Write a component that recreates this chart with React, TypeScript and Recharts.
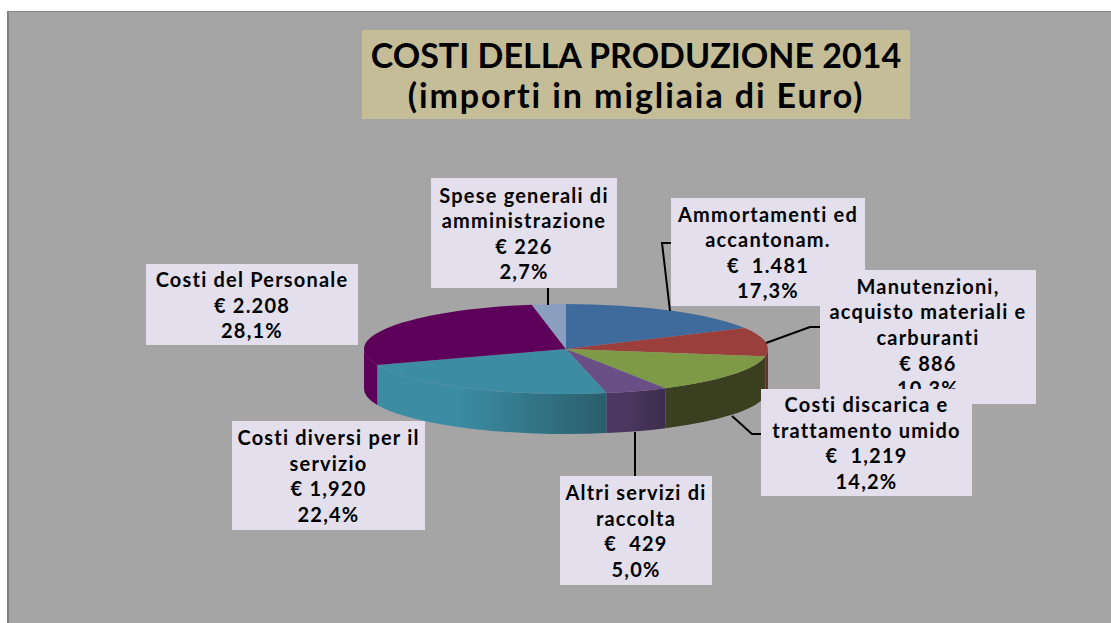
import { PieChart, Pie } from 'recharts'

const categoryLines = [
  ['Ammortamenti ed', 'accantonam.'],
  ['Manutenzioni,', 'acquisto materiali e', 'carburanti'],
  ['Costi discarica e', 'trattamento umido'],
  ['Altri servizi di', 'raccolta'],
  ['Costi diversi per il', 'servizio'],
  ['Costi del Personale'],
  ['Spese generali di', 'amministrazione'],
]
const amounts = ['€ \u00a01.481', '€ 886', '€ \u00a01,219', '€ \u00a0429', '€ 1,920', '€ 2.208', '€ 226']
const shareLabels = ['17,3%', '10,3%', '14,2%', '5,0%', '22,4%', '28,1%', '2,7%']
const shares = [17.3, 10.3, 14.2, 5.0, 22.4, 28.1, 2.7]

const topColors = ['#3f6a9c', '#9b3f3d', '#7f9a47', '#6a4f87', '#3c8ca3', '#5c005a', '#8a9fc0']
const wallColors = [
  ['#2c4a6d', '#2c4a6d'],
  ['#6e2c2b', '#6e2c2b'],
  ['#3a401f', '#3a401f'],
  ['#4b3760', '#3c2c4c'],
  ['#3c8ca3', '#2a5e6c'],
  ['#5c005a', '#5c005a'],
  ['#61708a', '#61708a'],
]

// label boxes: x, y, width, height
const boxes = [
  [671, 198, 194, 108],
  [820, 270, 216, 134],
  [761, 389, 211, 107],
  [560, 476, 152, 109],
  [232, 421, 193, 109],
  [146, 264, 212, 81],
  [431, 178, 186, 110],
]
const leaders = [
  '671,243 662,243 670,311',
  '766,343 810,327 820,327',
  '732,416 752,434 761,434',
  '635,432 635,476',
  '',
  '',
  '548,288 548,305',
]

const chartData = shares.map((share, i) => ({ name: categoryLines[i].join(' '), share }))

const SQUASH = 45 / 202
const DEPTH = 40

function Slice(props: any) {
  const { cx, cy, outerRadius, startAngle, endAngle, index } = props
  const rx = outerRadius
  const ry = outerRadius * SQUASH
  // clockwise degrees from the top of the pie
  const t0 = 90 - Math.max(startAngle, endAngle)
  const t1 = 90 - Math.min(startAngle, endAngle)
  const pt = (t: number, dy = 0) => {
    const r = (t * Math.PI) / 180
    return `${cx + rx * Math.sin(r)},${cy - ry * Math.cos(r) + dy}`
  }
  const large = t1 - t0 > 180 ? 1 : 0
  const wall0 = Math.max(t0, 90)
  const wall1 = Math.min(t1, 270)
  const gradId = `wall-${index}`
  return (
    <g>
      <defs>
        <linearGradient id={gradId} x1="0" x2="1" y1="0" y2="0">
          <stop offset="0.35" stopColor={wallColors[index][0]} />
          <stop offset="1" stopColor={wallColors[index][1]} />
        </linearGradient>
      </defs>
      {wall1 > wall0 && (
        <path
          d={`M${pt(wall0)} A${rx} ${ry} 0 0 1 ${pt(wall1)} L${pt(wall1, DEPTH)} A${rx} ${ry} 0 0 0 ${pt(wall0, DEPTH)} Z`}
          fill={`url(#${gradId})`}
        />
      )}
      <path
        d={`M${cx},${cy} L${pt(t0)} A${rx} ${ry} 0 ${large} 1 ${pt(t1)} Z`}
        fill={topColors[index]}
      />
    </g>
  )
}

function SliceLabel({ index }: any) {
  const [x, y, w, h] = boxes[index]
  const lines = [...categoryLines[index], amounts[index], shareLabels[index]]
  const mid = x + w / 2
  const lineH = 25.6
  const first = y + h / 2 - ((lines.length - 1) * lineH) / 2
  return (
    <g>
      {leaders[index] && (
        <polyline points={leaders[index]} fill="none" stroke="#000" strokeWidth={2} />
      )}
      <rect x={x} y={y} width={w} height={h} fill="#e4dfec" />
      {lines.map((line, i) => (
        <text
          key={i}
          x={mid}
          y={first + i * lineH}
          textAnchor="middle"
          dominantBaseline="central"
          fontFamily="Lato, sans-serif"
          fontWeight={700}
          fontSize={20}
          letterSpacing={1.2}
          fill="#000"
        >
          {line}
        </text>
      ))}
    </g>
  )
}

export default function App() {
  return (
    <div style={{ position: 'absolute', left: 0, top: 0, width: 1111, height: 623, background: '#fff', overflow: 'hidden' }}>
      <div
        style={{
          position: 'absolute',
          left: 7,
          top: 11,
          width: 1104,
          height: 612,
          background: '#a5a5a5',
          borderLeft: '2px solid #7f7f7f',
          borderTop: '1px solid #8c8c8c',
          boxSizing: 'border-box',
        }}
      />
      <div
        style={{
          position: 'absolute',
          left: 362,
          top: 30,
          width: 548,
          height: 89,
          background: '#c4bd97',
          color: '#000',
          fontFamily: 'Lato, sans-serif',
          fontWeight: 700,
          fontSize: 34,
          lineHeight: '40px',
          textAlign: 'center',
          paddingTop: 5,
          boxSizing: 'border-box',
          whiteSpace: 'nowrap',
        }}
      >
        COSTI DELLA PRODUZIONE 2014
        <br />
        <span style={{ letterSpacing: 1.9 }}>(importi in migliaia di Euro)</span>
      </div>
      <div style={{ position: 'absolute', left: 0, top: 0 }}>
        <PieChart width={1111} height={623} margin={{ top: 0, right: 0, bottom: 0, left: 0 }}>
          <Pie
            data={chartData}
            dataKey="share"
            nameKey="name"
            cx={566}
            cy={349}
            outerRadius={202}
            startAngle={90}
            endAngle={-270}
            stroke="none"
            shape={Slice}
            label={SliceLabel}
            labelLine={false}
            isAnimationActive={false}
          />
        </PieChart>
      </div>
    </div>
  )
}
